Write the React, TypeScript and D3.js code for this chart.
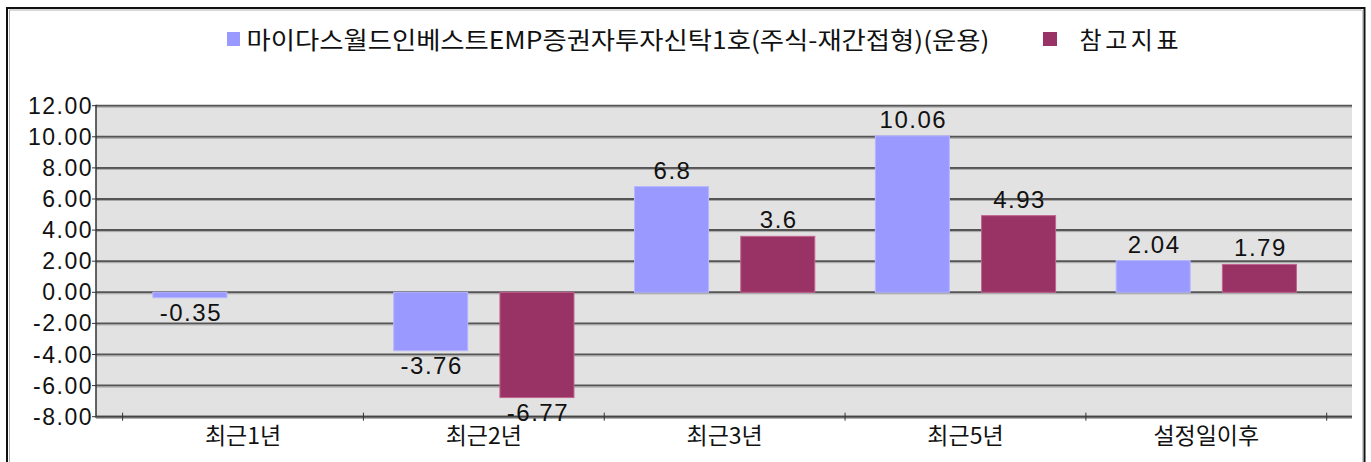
import React from "react";
import * as d3 from "d3";

const categories = ["최근1년", "최근2년", "최근3년", "최근5년", "설정일이후"];
const seriesNames = ["마이다스월드인베스트EMP증권자투자신탁1호(주식-재간접형)(운용)", "참고지표"];
const fundValues: (number | null)[] = [-0.35, -3.76, 6.8, 10.06, 2.04];
const indexValues: (number | null)[] = [null, -6.77, 3.6, 4.93, 1.79];
const valueLabels = [
  ["-0.35", "-3.76", "6.8", "10.06", "2.04"],
  ["", "-6.77", "3.6", "4.93", "1.79"],
];
const yTicks = [12, 10, 8, 6, 4, 2, 0, -2, -4, -6, -8];
const yTickLabels = ["12.00", "10.00", "8.00", "6.00", "4.00", "2.00", "0.00", "-2.00", "-4.00", "-6.00", "-8.00"];
const colors = ["#9999FF", "#993366"];
const strokeColors = ["#b8b8ff", "#c2638f"];

const W = 1371;
const H = 462;
const plotLeft = 96;
const plotRight = 1352;
const plotTop = 105.7;
const plotBottom = 416.7;

export default function App() {
  const y = d3.scaleLinear().domain([-8, 12]).range([plotBottom, plotTop]);
  const x = d3.scaleBand<string>().domain(categories).range([122.6, 1326.7]).padding(0);
  const inner = d3
    .scaleBand<string>()
    .domain(["0", "1"])
    .range([0, x.bandwidth()])
    .paddingInner(0.303)
    .paddingOuter(0.285);
  const series = [fundValues, indexValues];
  const numFont = "'Liberation Sans Narrow', 'Liberation Sans', Arial, sans-serif";
  const krFont = "'Noto Sans CJK KR', 'Noto Sans', sans-serif";
  const tickBounds = [...categories.map((c) => x(c)!), x.range()[1]];

  return (
    <svg width={W} height={H} style={{ position: "absolute", left: 0, top: 0, background: "#fff" }}>
      {/* outer frame */}
      <line x1={7} y1={8} x2={7} y2={H + 2} stroke="#111" strokeWidth={2} />
      <line x1={6} y1={8} x2={1365} y2={8} stroke="#111" strokeWidth={2} />
      <line x1={1364.5} y1={7} x2={1364.5} y2={H + 2} stroke="#111" strokeWidth={2} />
      <line x1={9} y1={10} x2={1362} y2={10} stroke="#b0b0b0" strokeWidth={1} />
      <line x1={9.5} y1={10} x2={9.5} y2={H} stroke="#b0b0b0" strokeWidth={1} />
      <line x1={1362.5} y1={10} x2={1362.5} y2={H} stroke="#c8c8c8" strokeWidth={1} />

      {/* legend */}
      <rect x={227} y={32} width={13} height={14} fill={colors[0]} />
      <text
        x={246.5}
        y={48.5}
        fontFamily={krFont}
        fontSize={24}
        fill="#111"
        textLength={743}
        lengthAdjust="spacingAndGlyphs"
      >
        {seriesNames[0]}
      </text>
      <rect x={1043} y={32} width={14} height={14} fill={colors[1]} />
      <text x={1079.5} y={48.5} fontFamily={krFont} fontSize={24} fill="#111" textLength={99} lengthAdjust="spacing">
        {seriesNames[1]}
      </text>

      {/* plot background */}
      <rect x={plotLeft} y={plotTop} width={plotRight - plotLeft} height={plotBottom - plotTop} fill="#e2e2e2" />

      {/* gridlines */}
      {yTicks.map((t) => (
        <g key={"g" + t}>
          <line x1={plotLeft} x2={plotRight} y1={y(t)} y2={y(t)} stroke="#555" strokeWidth={2} />
          <line x1={plotLeft} x2={plotRight} y1={y(t) + 1.5} y2={y(t) + 1.5} stroke="#a8a8a8" strokeWidth={1} />
        </g>
      ))}

      {/* bars */}
      {series.map((vals, si) =>
        vals.map((v, ci) => {
          if (v === null) return null;
          const bx = x(categories[ci])! + inner(String(si))!;
          const y0 = y(0);
          const y1 = y(v);
          return (
            <rect
              key={`b${si}-${ci}`}
              x={bx}
              y={Math.min(y0, y1)}
              width={inner.bandwidth()}
              height={Math.abs(y1 - y0)}
              fill={colors[si]}
              stroke={strokeColors[si]}
              strokeWidth={1}
            />
          );
        })
      )}

      {/* axes */}
      <line x1={plotLeft} x2={plotLeft} y1={plotTop - 1} y2={plotBottom + 1} stroke="#333" strokeWidth={1.5} />
      <line x1={plotLeft} x2={plotRight} y1={plotBottom} y2={plotBottom} stroke="#444" strokeWidth={2} />
      <line x1={plotLeft} x2={plotRight} y1={plotBottom + 1.5} y2={plotBottom + 1.5} stroke="#aaa" strokeWidth={1} />
      {yTicks.map((t) => (
        <line key={"yt" + t} x1={plotLeft - 4} x2={plotLeft} y1={y(t)} y2={y(t)} stroke="#333" strokeWidth={1} />
      ))}
      {tickBounds.map((bx, i) => (
        <line key={"xt" + i} x1={bx} x2={bx} y1={plotBottom - 4} y2={plotBottom + 4} stroke="#333" strokeWidth={1} />
      ))}

      {/* y tick labels */}
      {yTicks.map((t, i) => (
        <text
          key={"yl" + t}
          x={93}
          y={y(t) + 8}
          textAnchor="end"
          fontFamily={numFont}
          fontSize={23}
          letterSpacing={1.5}
          fill="#111"
        >
          {yTickLabels[i]}
        </text>
      ))}

      {/* category labels */}
      {categories.map((c) => (
        <text
          key={"c" + c}
          x={x(c)! + x.bandwidth() / 2}
          y={443.5}
          textAnchor="middle"
          fontFamily={krFont}
          fontSize={23}
          fill="#111"
        >
          {c}
        </text>
      ))}

      {/* value labels */}
      {series.map((vals, si) =>
        vals.map((v, ci) => {
          if (v === null) return null;
          const cx = x(categories[ci])! + inner(String(si))! + inner.bandwidth() / 2;
          const ty = v >= 0 ? y(v) - 8 : y(v) + 23;
          return (
            <text
              key={`v${si}-${ci}`}
              x={cx + 1}
              y={ty}
              textAnchor="middle"
              fontFamily={numFont}
              fontSize={24}
              letterSpacing={1.5}
              fill="#111"
            >
              {valueLabels[si][ci]}
            </text>
          );
        })
      )}
    </svg>
  );
}
